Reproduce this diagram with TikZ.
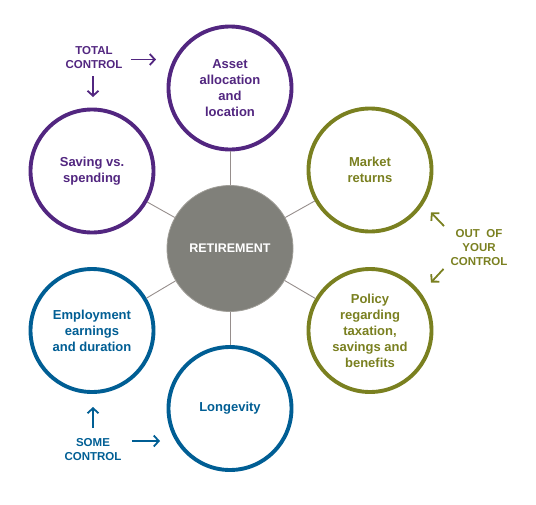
\documentclass[tikz,border=0pt]{standalone}
\usepackage{fontspec}
\setmainfont{Liberation Sans}
\usetikzlibrary{arrows.meta}
\definecolor{totalpurple}{RGB}{82,38,128}
\definecolor{outolive}{RGB}{122,128,32}
\definecolor{someblue}{RGB}{0,94,148}
\definecolor{hubgray}{RGB}{128,128,122}
\definecolor{hubedge}{RGB}{160,158,152}
\definecolor{spokegray}{RGB}{150,142,140}

\begin{document}
\begin{tikzpicture}[x=1pt,y=-1pt,
    factor/.style={circle,draw=#1,line width=3.9pt,fill=white,minimum size=123pt,inner sep=0pt,
      align=center,text=#1,font=\fontsize{13}{16}\selectfont\bfseries},
    hub/.style={circle,draw=hubedge,line width=.8pt,fill=hubgray,minimum size=126pt,inner sep=0pt,
      text=white,font=\fontsize{12.5}{15}\selectfont\bfseries},
    spoke/.style={draw=spokegray,line width=.9pt},
    tag/.style={align=center,text=#1,font=\fontsize{11.5}{13.8}\selectfont\bfseries},
    pointer/.style={draw=#1,line width=1.8pt,-{Straight Barb[length=5pt,width=11pt]}}]
    \useasboundingbox (0,0) rectangle (536,504);
    % circles
    \node[hub] (hub) at (230,248.5) {RETIREMENT};
    \node[factor=totalpurple] (asset) at (230,88) {Asset\\allocation\\and\\location};
    \node[factor=totalpurple] (saving) at (92,171) {Saving vs.\\spending};
    \node[factor=outolive] (market) at (370,170) {Market\\returns};
    \node[factor=outolive] (policy) at (370,330.5) {Policy\\regarding\\taxation,\\savings and\\benefits};
    \node[factor=someblue] (employ) at (92,330.5) {Employment\\earnings\\and duration};
    \node[factor=someblue] (longev) at (230,408.5) {Longevity};
    \draw[spoke] (hub) -- (asset);
    \draw[spoke] (hub) -- (saving);
    \draw[spoke] (hub) -- (market);
    \draw[spoke] (hub) -- (policy);
    \draw[spoke] (hub) -- (employ);
    \draw[spoke] (hub) -- (longev);
    % control labels
    \node[tag=totalpurple] (total) at (94,57.7) {TOTAL\\CONTROL};
    \coordinate (totalR) at (156,59.5);
    \coordinate (totalD) at (93,97);
    \draw[pointer=totalpurple] (total.east |- totalR) ++(5,0) -- (totalR);
    \draw[pointer=totalpurple] (total.south -| totalD) ++(0,4) -- (totalD);
    \node[tag=outolive] (outctrl) at (479,247.5) {OUT\ \ OF\\YOUR\\CONTROL};
    \coordinate (outU) at (431,212.5);
    \coordinate (outL) at (431,282.5);
    \draw[pointer=outolive] ([xshift=-3pt]outctrl.north west) -- (outU);
    \draw[pointer=outolive] ([xshift=-3.5pt]outctrl.south west) -- (outL);
    \node[tag=someblue] (some) at (93,449.5) {SOME\\CONTROL};
    \coordinate (someU) at (93,407);
    \coordinate (someR) at (160,441);
    \draw[pointer=someblue] (some.north -| someU) ++(0,-7) -- (someU);
    \draw[pointer=someblue] (some.east |- someR) ++(7,0) -- (someR);
\end{tikzpicture}
\end{document}
